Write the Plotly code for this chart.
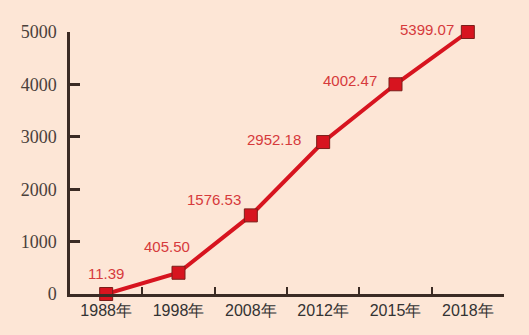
import plotly.graph_objects as go

years = ["1988年", "1998年", "2008年", "2012年", "2015年", "2018年"]
# positions of the markers as drawn in the reference
plot_values = [0, 405.5, 1500, 2900, 4002.47, 5000]
# printed labels
label_texts = ["11.39", "405.50", "1576.53", "2952.18", "4002.47", "5399.07"]
y_ticks = [0, 1000, 2000, 3000, 4000, 5000]

# label offsets (px) relative to each marker
label_dx = [0, -12, -37, -49, -46, -41]
label_dy = [21, 26, 16, 3, 4, 3]

bg = "#fde6d6"
red = "#d7141f"
axis_col = "#3b2b24"

fig = go.Figure()
fig.add_trace(go.Scatter(
    x=years, y=plot_values, mode="lines+markers",
    line=dict(color=red, width=4),
    marker=dict(symbol="square", size=13, color=red,
                line=dict(color="#7a1f1a", width=1)),
    cliponaxis=False, showlegend=False, hoverinfo="skip",
))

for x, y, t, dx, dy in zip(years, plot_values, label_texts, label_dx, label_dy):
    fig.add_annotation(x=x, y=y, text=t, showarrow=False,
                       xshift=dx, yshift=dy,
                       font=dict(family="Liberation Sans, Arial", size=15, color="#d63a3c"))

fig.update_layout(
    width=529, height=335,
    margin=dict(l=70, r=25, t=32, b=41),
    paper_bgcolor=bg, plot_bgcolor=bg,
    xaxis=dict(
        type="category", range=[-0.5, 5.5], tickson="boundaries",
        ticks="inside", ticklen=7, tickwidth=2, tickcolor=axis_col,
        showline=True, linecolor=axis_col, linewidth=2.5,
        showgrid=False, zeroline=False, ticklabelstandoff=0,
        tickfont=dict(family="Liberation Sans, Arial", size=16, color="#333333"),
    ),
    yaxis=dict(
        range=[0, 5000], tickvals=y_ticks, ticktext=[str(v) for v in y_ticks],
        ticks="inside", ticklen=10, tickwidth=2.5, tickcolor=axis_col,
        showline=True, linecolor=axis_col, linewidth=2.5,
        showgrid=False, zeroline=False, ticklabelstandoff=7,
        tickfont=dict(family="Liberation Serif, Times New Roman", size=18, color="#4a403b"),
    ),
)

fig.write_html("out.html")
